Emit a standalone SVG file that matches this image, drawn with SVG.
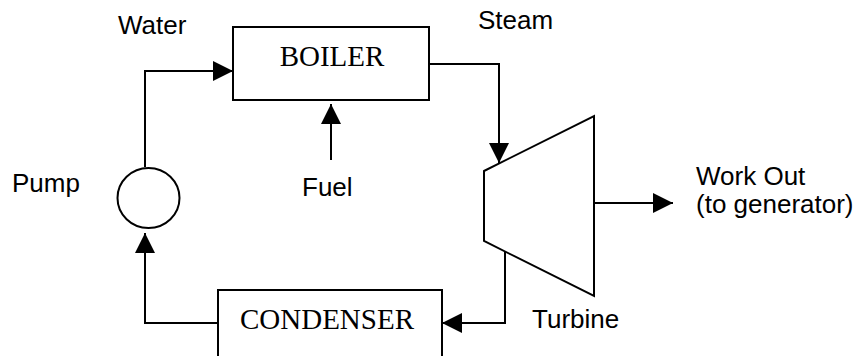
<svg xmlns="http://www.w3.org/2000/svg" width="857" height="356" viewBox="0 0 857 356">
<defs>
<style>
.box{fill:#fff;stroke:#000;stroke-width:2}
.ln{fill:none;stroke:#000;stroke-width:2}
.sans{font-family:"Liberation Sans",Arial,sans-serif;font-size:26px;fill:#000}
.serif{font-family:"Liberation Serif","Times New Roman",serif;font-size:29px;fill:#000}
</style>
<marker id="ah" markerUnits="userSpaceOnUse" markerWidth="20" markerHeight="20" viewBox="0 0 20 20" refX="20" refY="10" orient="auto">
<path d="M0,0 L20,10 L0,20 Z" fill="#000"/>
</marker>
</defs>
<rect width="857" height="356" fill="#fff"/>
<g id="connectors">
<path class="ln" d="M145,167 V71 H233" marker-end="url(#ah)"/>
<path class="ln" d="M331,160 V104" marker-end="url(#ah)"/>
<path class="ln" d="M429,64 H499 V163" marker-end="url(#ah)"/>
<path class="ln" d="M594,203 H673" marker-end="url(#ah)"/>
<path class="ln" d="M505,251 V323 H442" marker-end="url(#ah)"/>
<path class="ln" d="M218,323 H145 V233" marker-end="url(#ah)"/>
</g>
<g id="boiler">
<rect class="box" x="233" y="27" width="196" height="73"/>
<text class="serif" x="332" y="66" text-anchor="middle">BOILER</text>
</g>
<g id="turbine">
<polygon class="box" points="484,171 594,116 594,296 484,241"/>
</g>
<g id="pump">
<ellipse class="box" cx="148.5" cy="198" rx="31" ry="30"/>
</g>
<g id="condenser">
<rect class="box" x="218" y="290" width="224" height="80"/>
<text class="serif" x="327" y="329" text-anchor="middle">CONDENSER</text>
</g>
<g id="labels">
<text class="sans" x="118" y="34">Water</text>
<text class="sans" x="478" y="29">Steam</text>
<text class="sans" x="12" y="192">Pump</text>
<text class="sans" x="302" y="196">Fuel</text>
<text class="sans" x="696" y="185">Work Out</text>
<text class="sans" x="696" y="213">(to generator)</text>
<text class="sans" x="532" y="328">Turbine</text>
</g>
</svg>
